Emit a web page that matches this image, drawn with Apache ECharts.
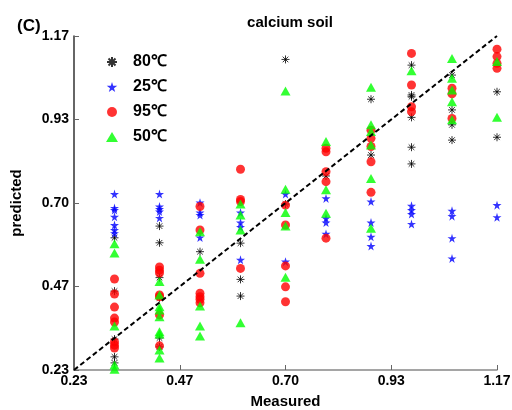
<!DOCTYPE html>
<html><head><meta charset="utf-8">
<script src="https://cdn.jsdelivr.net/npm/echarts@6/dist/echarts.min.js"></script>
<style>html,body{margin:0;padding:0;background:#fff}#c{width:512px;height:410px}</style>
</head><body><div id="c"></div>
<script>
// measured levels (x)
const xLevels = [0.32, 0.42, 0.51, 0.60, 0.70, 0.79, 0.89, 0.98, 1.07, 1.17];
// predicted values per measured level, per series
const s80 = [[0.602,0.452,0.317,0.267,0.25],[0.635,0.588,0.49,0.433,0.32,0.295],[0.563],[0.587,0.485,0.438],[1.104,0.697],[0.776],[0.992,0.835],[1.088,1.004,0.999,0.941,0.857,0.81],[1.06,0.962,0.92,0.877],[1.013,0.885]];
const s25 = [[0.725,0.686,0.68,0.661,0.638,0.624,0.615],[0.725,0.69,0.683,0.676,0.658],[0.701,0.673,0.666,0.603],[0.673,0.645,0.632,0.54],[0.725,0.535],[0.713,0.657,0.645,0.613],[0.704,0.645,0.605,0.579],[0.692,0.68,0.669,0.641],[0.678,0.663,0.601,0.544],[0.694,0.66]];
const s95 = [[0.486,0.444,0.407,0.376,0.365,0.309,0.30,0.292],[0.52,0.511,0.503,0.441,0.436,0.385,0.298],[0.69,0.624,0.502,0.446,0.436,0.429,0.419],[0.795,0.71,0.704,0.516],[0.694,0.638,0.523,0.464,0.422],[0.854,0.844,0.788,0.76,0.601],[0.905,0.882,0.859,0.816,0.73],[1.121,1.032,0.971,0.957],[1.023,1.007,0.938],[1.133,1.112,1.093,1.079]];
const s50 = [[0.585,0.559,0.354,0.244,0.232],[0.479,0.441,0.408,0.399,0.38,0.338,0.331,0.286,0.264],[0.619,0.542,0.41,0.354,0.326],[0.697,0.666,0.624,0.363],[1.015,0.739,0.673,0.635,0.491],[0.873,0.737,0.671],[1.026,0.92,0.901,0.863,0.769,0.629],[1.072],[1.107,1.051,1.018,0.985,0.934],[1.098,0.941]];
const seriesNames = ['80\u2103','25\u2103','95\u2103','50\u2103'];
const tickValues = [0.23, 0.465, 0.70, 0.935, 1.17];
const tickLabels = ['0.23', '0.47', '0.70', '0.93', '1.17'];
const diagonal = [[0.23, 0.23], [1.17, 1.17]];

function pairs(cols){ const out=[]; cols.forEach((c,i)=>c.forEach(v=>out.push([xLevels[i], v]))); return out; }
function fmt(v){ let best=0; tickValues.forEach((t,i)=>{ if(Math.abs(t-v)<Math.abs(tickValues[best]-v)) best=i; }); return tickLabels[best]; }

const asterisk = 'path://M5,0L5,10M0,5L10,5M1.5,1.5L8.5,8.5M1.5,8.5L8.5,1.5';
const star = 'path://M50,0L61,35L98,35L68,57L79,91L50,70L21,91L32,57L2,35L39,35Z';
const FONT = 'Liberation Sans';

function axis(name, isY){
  return {
    type:'value', min:0.23, max:1.17, name:name,
    nameLocation:'middle', nameGap: isY?50:24,
    nameTextStyle:{fontFamily:FONT,fontWeight:'bold',fontSize:15,color:'#000'},
    axisLine:{show:true,lineStyle:{color:isY?'#333':'#888',width:1.5}},
    axisTick:{show:true,inside:true,length:5,customValues:tickValues,lineStyle:{color:'#666'}},
    axisLabel:{customValues:tickValues,formatter:fmt,fontFamily:FONT,fontWeight:'bold',fontSize:14,color:'#000',margin:isY?5:4},
    splitLine:{show:false}
  };
}

const chart = echarts.init(document.getElementById('c'), null, {renderer:'canvas'});
chart.setOption({
  animation:false,
  backgroundColor:'#fff',
  title:[
    {text:'calcium soil',left:285,top:10,textAlign:'center',textStyle:{fontFamily:FONT,fontWeight:'bold',fontSize:15,color:'#000'}},
    {text:'(C)',left:12,top:13,textStyle:{fontFamily:FONT,fontWeight:'bold',fontSize:17,color:'#000'}}
  ],
  grid:{left:74,right:15,top:36,bottom:40,containLabel:false,outerBoundsMode:'none'},
  xAxis:axis('Measured',false),
  yAxis:axis('predicted',true),
  legend:{
    orient:'vertical',left:101,top:48,itemWidth:12,itemHeight:10,itemGap:7,
    data:seriesNames,
    textStyle:{fontFamily:FONT,fontWeight:'bold',fontSize:16,color:'#000',padding:[0,0,0,10],lineHeight:18}
  },
  series:[
    {name:seriesNames[0],type:'scatter',data:pairs(s80),symbol:asterisk,symbolSize:8,clip:false,
     itemStyle:{color:'rgba(0,0,0,0)',borderColor:'#000',borderWidth:1}},
    {name:seriesNames[1],type:'scatter',data:pairs(s25),symbol:star,symbolSize:9,clip:false,
     itemStyle:{color:'#0000ff'}},
    {name:seriesNames[2],type:'scatter',data:pairs(s95),symbol:'circle',symbolSize:9,clip:false,
     itemStyle:{color:'#ff0000'}},
    {name:seriesNames[3],type:'scatter',data:pairs(s50),symbol:'triangle',symbolSize:[10,9],clip:false,
     itemStyle:{color:'#00ff00'}},
    {type:'line',data:diagonal,symbol:'none',silent:true,z:5,
     lineStyle:{color:'#000',width:2,type:[5,3]}}
  ]
});
</script></body></html>
